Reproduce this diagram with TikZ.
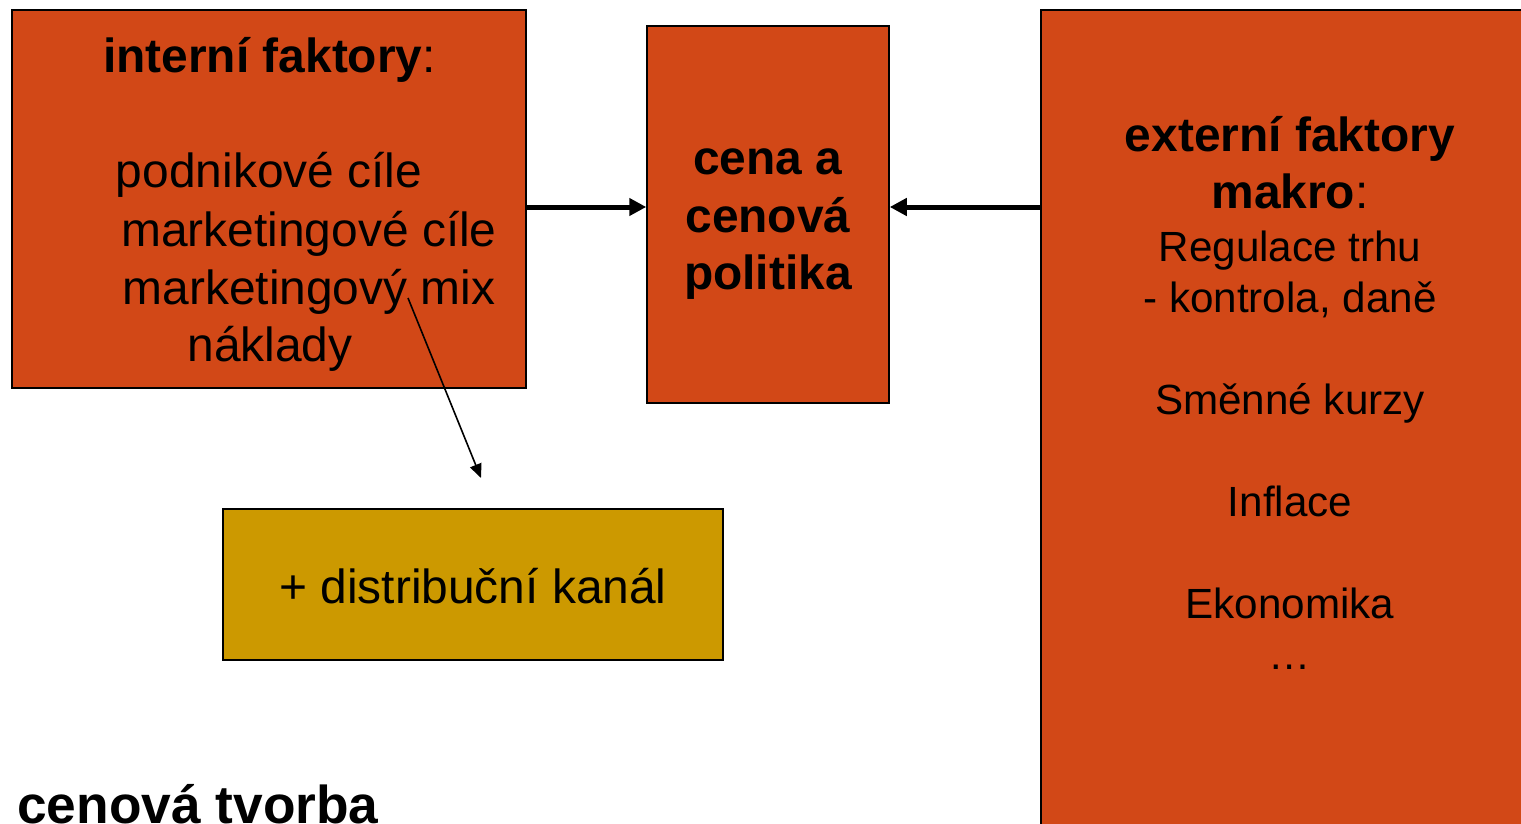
\documentclass[tikz,border=0pt]{standalone}
\usepackage{fontspec}
\setmainfont{Liberation Sans}
\usetikzlibrary{arrows.meta}
\definecolor{boxred}{RGB}{210,72,23}
\definecolor{boxgold}{RGB}{204,153,0}
\tikzset{
  box/.style={draw=black, line width=1.5pt, rectangle, inner sep=0pt},
  redbox/.style={box, fill=boxred},
  goldbox/.style={box, fill=boxgold},
  bigtxt/.style={anchor=base, inner sep=0pt, font=\fontsize{47.9}{58}\selectfont},
  smalltxt/.style={anchor=base, inner sep=0pt, font=\fontsize{42.2}{51}\selectfont},
  thickarrow/.style={line width=5pt, -{Triangle[length=17pt,width=17pt]}},
  thinarrow/.style={line width=1.6pt, -{Triangle[length=14pt,width=12pt]}}
}
\begin{document}
\begin{tikzpicture}[x=1pt,y=-1pt]
\useasboundingbox (0,0) rectangle (1521,824);
\clip (0,0) rectangle (1521,824);
% boxes
\node[redbox, minimum width=514pt, minimum height=378pt] (L) at (269,199) {};
\node[redbox, minimum width=242pt, minimum height=377pt] (C) at (768,214.5) {};
\node[redbox, minimum width=499pt, minimum height=830pt] (R) at (1290.5,425) {};
\node[goldbox, minimum width=500pt, minimum height=151pt] (G) at (473,584.5) {};
% left box text
\node[bigtxt] (l0) at (269.5,73) {\textbf{interní faktory}:};
\node[bigtxt] (l1) at (269,187) {podnikové cíle};
\node[bigtxt] (l2) at (309,246) {marketingové cíle};
\node[bigtxt] (l3) at (309,304) {marketingový mix};
\node[bigtxt] (l4) at (270,361) {náklady};
% centre box text
\node[bigtxt] (c1) at (768,175) {\textbf{cena a}};
\node[bigtxt] (c2) at (768,232) {\textbf{cenová}};
\node[bigtxt] (c3) at (768,289) {\textbf{politika}};
% right box text
\node[bigtxt] (r1) at (1290,152) {\textbf{externí faktory}};
\node[bigtxt] (r2) at (1290,208) {\textbf{makro}:};
\node[smalltxt] (r3) at (1290,261) {Regulace trhu};
\node[smalltxt] (r4) at (1290,312) {- kontrola, daně};
\node[smalltxt] (r5) at (1290,414) {Směnné kurzy};
\node[smalltxt] (r6) at (1290,516) {Inflace};
\node[smalltxt] (r7) at (1290,618) {Ekonomika};
\node[smalltxt] (r8) at (1290,669) {…};
% gold box text
\node[bigtxt] (g1) at (473,603) {+ distribuční kanál};
% bottom title
\node[anchor=base west, inner sep=0pt, font=\fontsize{53.3}{60}\selectfont\bfseries] (title) at (17,823) {cenová tvorba};
% connectors
\coordinate (ay) at (0,207);
\draw[thickarrow] (L.east |- ay) -- (C.west |- ay);
\draw[thickarrow] (R.west |- ay) -- (C.east |- ay);
\coordinate (ts) at (408,298);
\coordinate (te) at (481,478);
\draw[thinarrow] (ts) -- (te);
\end{tikzpicture}
\end{document}
